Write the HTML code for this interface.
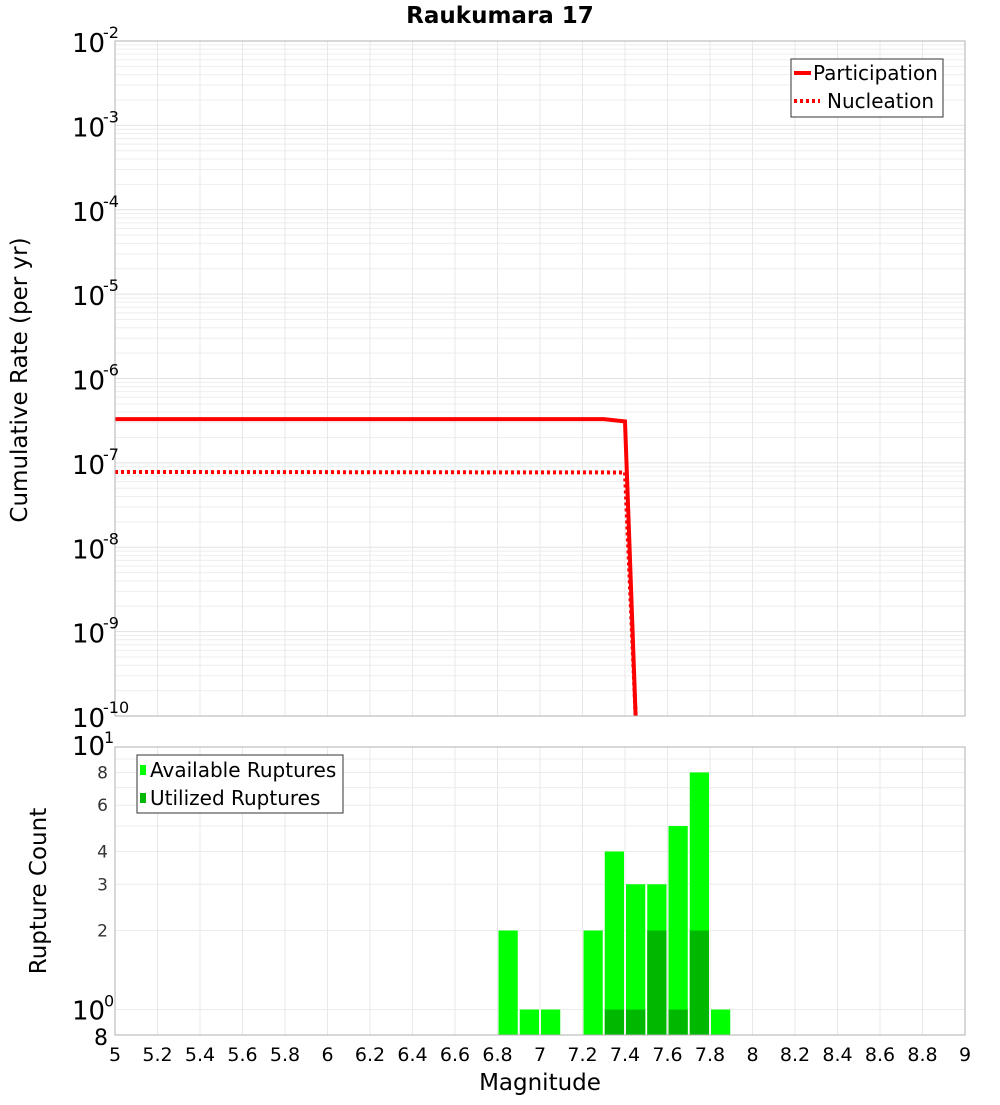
<!DOCTYPE html>
<html><head><meta charset="utf-8"><style>
body{margin:0;background:#fff;font-family:"Liberation Sans","DejaVu Sans",sans-serif}
svg text{font-family:"DejaVu Sans","Liberation Sans",sans-serif}
</style></head><body>
<svg id="c" width="1000" height="1100" xmlns="http://www.w3.org/2000/svg"></svg>
<script>
const xTicks=[5,5.2,5.4,5.6,5.8,6,6.2,6.4,6.6,6.8,7,7.2,7.4,7.6,7.8,8,8.2,8.4,8.6,8.8,9];
const partMag=[5,7.3,7.4,7.45];
const partRate=[3.3e-7,3.3e-7,3.1e-7,1e-10];
const nuclMag=[5,7.4,7.45];
const nuclRate=[7.8e-8,7.7e-8,1e-10];
const binCenters=[6.85,6.95,7.05,7.25,7.35,7.45,7.55,7.65,7.75,7.85];
const availCounts=[2,1,1,2,4,3,3,5,8,1];
const usedCounts=[0,0,0,0,1,1,2,1,2,0];
const countTicks=[2,3,4,6,8];

const svg=document.getElementById('c');
const NS='http://www.w3.org/2000/svg';
function mk(t,a,p){const e=document.createElementNS(NS,t);for(const k in a)e.setAttribute(k,a[k]);(p||svg).appendChild(e);return e;}
const L=115,R=965,T1=41,B1=716,T2=747,B2=1035;
const x=v=>L+(v-5)/4*(R-L);
const y1=v=>T1+(-2-Math.log10(v))/8*(B1-T1);
const y2=v=>T2+(1-Math.log10(v))/(1-Math.log10(0.8))*(B2-T2);

for(let d=-10;d<-2;d++){for(let m=1;m<10;m++){const yy=y1(m*Math.pow(10,d));mk('line',{x1:L,x2:R,y1:yy,y2:yy,stroke:m==1?'#e2e2e2':'#eeeeee','stroke-width':1});}}
xTicks.forEach(t=>{mk('line',{x1:x(t),x2:x(t),y1:T1,y2:B1,stroke:'#e8e8e8'});});
[1,2,3,4,5,6,7,8,9].forEach(v=>{const yy=y2(v);mk('line',{x1:L,x2:R,y1:yy,y2:yy,stroke:'#ececec'});});
xTicks.forEach(t=>{mk('line',{x1:x(t),x2:x(t),y1:T2,y2:B2,stroke:'#e8e8e8'});});

function path(xs,ys,fy){return xs.map((m,i)=>(i?'L':'M')+x(m)+','+Math.min(fy(ys[i]),B1)).join(' ');}
const pl=mk('path',{d:path(partMag,partRate,y1),fill:'none',stroke:'#ff0000','stroke-width':4});


const nl=mk('path',{d:path(nuclMag,nuclRate,y1),fill:'none',stroke:'#ff0000','stroke-width':4,'stroke-dasharray':'3,3'});



binCenters.forEach((c,i)=>{
 const x0=x(c-0.05)+1,w=x(c+0.05)-x(c-0.05)-2;
 const b=mk('rect',{x:x0,y:y2(availCounts[i]),width:w,height:B2-y2(availCounts[i]),fill:'#00ff00'});
 
 
 if(usedCounts[i]>0){const u=mk('rect',{x:x0,y:y2(usedCounts[i]),width:w,height:B2-y2(usedCounts[i]),fill:'#00b800'});
 
 }
});

mk('rect',{x:L,y:T1,width:R-L,height:B1-T1,fill:'none',stroke:'#b0b0b0'});
mk('rect',{x:L,y:T2,width:R-L,height:B2-T2,fill:'none',stroke:'#b0b0b0'});

for(let d=-10;d<=-2;d++){const yy=y1(Math.pow(10,d));
 const t=mk('text',{x:72,y:yy+11,'font-size':26,fill:'#000'});t.textContent='10';
 
 
 const s=mk('text',{x:103,y:yy-3,'font-size':16,fill:'#000'});s.textContent=String(d);}
let t=mk('text',{x:72,y:T2+8,'font-size':26});t.textContent='10';
t=mk('text',{x:104,y:T2-4,'font-size':16});t.textContent='1';
t=mk('text',{x:72,y:y2(1)+10,'font-size':26});t.textContent='10';
t=mk('text',{x:104,y:y2(1)-3,'font-size':16});t.textContent='0';
t=mk('text',{x:94,y:B2+10,'font-size':22});t.textContent='8';
countTicks.forEach(v=>{const tt=mk('text',{x:108,y:y2(v)+6,'font-size':17,fill:'#333','text-anchor':'end'});tt.textContent=v;
 
 });
xTicks.forEach(v=>{const tt=mk('text',{x:x(v),y:1061,'font-size':19,'text-anchor':'middle'});tt.textContent=String(v);
 
 });
</script>
<svg style="position:absolute;left:0;top:0" width="1000" height="1100" xmlns="http://www.w3.org/2000/svg">
<text x="500" y="23" font-size="23" font-weight="bold" text-anchor="middle" font-family="DejaVu Sans,sans-serif">Raukumara 17</text>
<text transform="translate(27,380) rotate(-90)" font-size="23" text-anchor="middle" font-family="DejaVu Sans,sans-serif">Cumulative Rate (per yr)</text>
<text transform="translate(46,891) rotate(-90)" font-size="23" text-anchor="middle" font-family="DejaVu Sans,sans-serif">Rupture Count</text>
<text x="540" y="1090" font-size="23" text-anchor="middle" font-family="DejaVu Sans,sans-serif">Magnitude</text>
<g font-family="DejaVu Sans,sans-serif" font-size="20">
<rect x="791" y="59" width="152" height="58" fill="#fff" stroke="#333"/>
<line x1="794" y1="73" x2="811" y2="73" stroke="#ff0000" stroke-width="4"/>
<text x="813" y="80">Participation</text>
<line x1="794" y1="101" x2="820" y2="101" stroke="#ff0000" stroke-width="4" stroke-dasharray="3,3"/>
<text x="827" y="108">Nucleation</text>
</g>
<g font-family="DejaVu Sans,sans-serif" font-size="20">
<rect x="137" y="755" width="206" height="58" fill="#fff" stroke="#333"/>
<rect x="140" y="765" width="6" height="10" fill="#00ff00"/>
<text x="150" y="777">Available Ruptures</text>
<rect x="140" y="793" width="6" height="10" fill="#00b800"/>
<text x="150" y="805">Utilized Ruptures</text>
</g>
</svg>
</body></html>
